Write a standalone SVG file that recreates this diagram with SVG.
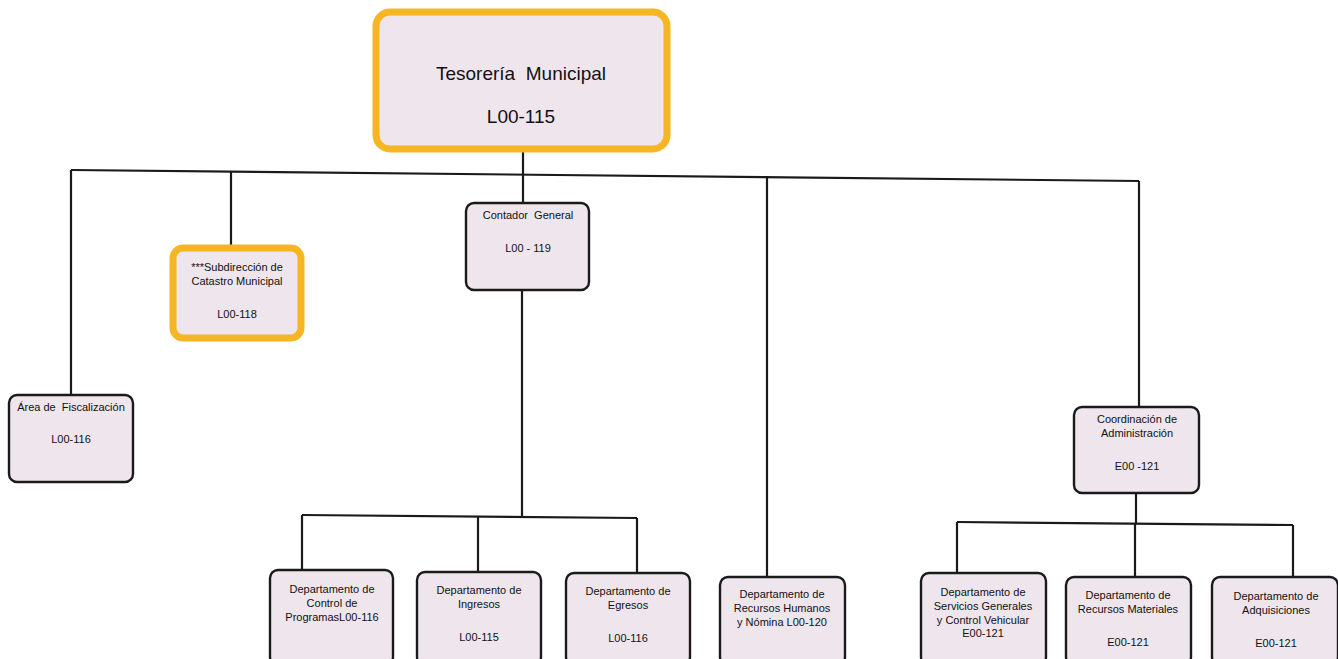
<svg xmlns="http://www.w3.org/2000/svg" width="1338" height="659" viewBox="0 0 1338 659">
<style>
.node{fill:#efe5ec;stroke:#1a1a1a;stroke-width:2.4}
.hl{fill:#efe5ec;stroke:#f6b624;stroke-width:7}
.t{font-family:"Liberation Sans",Arial,sans-serif;font-size:11px;fill:#111;text-anchor:middle;white-space:pre}
.big{font-family:"Liberation Sans",Arial,sans-serif;font-size:19px;fill:#111;text-anchor:middle;white-space:pre}
.c{stroke:#1a1a1a;stroke-width:2.2;fill:none}
</style>
<rect width="1338" height="659" fill="#ffffff"/>
<g id="connectors">
<path class="c" d="M71,170 L1139,181"/>
<path class="c" d="M71,170 V395"/>
<path class="c" d="M231,171 V245"/>
<path class="c" d="M523,152 V203"/>
<path class="c" d="M767,176 V577"/>
<path class="c" d="M1139,181 V407"/>
<path class="c" d="M522,290 V516"/>
<path class="c" d="M302,515 L637,518"/>
<path class="c" d="M302,515 V570"/>
<path class="c" d="M478,516 V572"/>
<path class="c" d="M637,518 V573"/>
<path class="c" d="M1136,493 V523"/>
<path class="c" d="M957,522 L1293,525"/>
<path class="c" d="M957,522 V573"/>
<path class="c" d="M1135,523 V577"/>
<path class="c" d="M1293,525 V577"/>
</g>
<g id="tesoreria">
<rect class="hl" x="376" y="12" width="291" height="137" rx="14"/>
<text class="big" x="521" y="80" xml:space="preserve">Tesorería  Municipal</text>
<text class="big" x="521" y="123">L00-115</text>
</g>
<g id="subdireccion">
<rect class="hl" x="173" y="248" width="128" height="90" rx="10"/>
<text class="t" x="237" y="271">***Subdirección de</text>
<text class="t" x="237" y="285">Catastro Municipal</text>
<text class="t" x="237" y="318">L00-118</text>
</g>
<g id="contador">
<rect class="node" x="466" y="203" width="123" height="87" rx="8"/>
<text class="t" x="528" y="219" xml:space="preserve">Contador  General</text>
<text class="t" x="528" y="252">L00 - 119</text>
</g>
<g id="area-fiscalizacion">
<rect class="node" x="9" y="395" width="124" height="87" rx="8"/>
<text class="t" x="71" y="411" xml:space="preserve">Área de  Fiscalización</text>
<text class="t" x="71" y="443">L00-116</text>
</g>
<g id="coordinacion">
<rect class="node" x="1074" y="407" width="125" height="86" rx="8"/>
<text class="t" x="1137" y="423">Coordinación de</text>
<text class="t" x="1137" y="437">Administración</text>
<text class="t" x="1137" y="470">E00 -121</text>
</g>
<g id="control-programas">
<rect class="node" x="270" y="570" width="123" height="95" rx="8"/>
<text class="t" x="332" y="593">Departamento de</text>
<text class="t" x="332" y="607">Control de</text>
<text class="t" x="332" y="621">ProgramasL00-116</text>
</g>
<g id="ingresos">
<rect class="node" x="417" y="572" width="124" height="93" rx="8"/>
<text class="t" x="479" y="594">Departamento de</text>
<text class="t" x="479" y="608">Ingresos</text>
<text class="t" x="479" y="641">L00-115</text>
</g>
<g id="egresos">
<rect class="node" x="566" y="573" width="124" height="92" rx="8"/>
<text class="t" x="628" y="595">Departamento de</text>
<text class="t" x="628" y="609">Egresos</text>
<text class="t" x="628" y="642">L00-116</text>
</g>
<g id="recursos-humanos">
<rect class="node" x="720" y="577" width="125" height="88" rx="8"/>
<text class="t" x="782" y="598">Departamento de</text>
<text class="t" x="782" y="612">Recursos Humanos</text>
<text class="t" x="782" y="626">y Nómina L00-120</text>
</g>
<g id="servicios-generales">
<rect class="node" x="921" y="573" width="125" height="92" rx="8"/>
<text class="t" x="983" y="596">Departamento de</text>
<text class="t" x="983" y="610">Servicios Generales</text>
<text class="t" x="983" y="624">y Control Vehicular</text>
<text class="t" x="983" y="637">E00-121</text>
</g>
<g id="recursos-materiales">
<rect class="node" x="1066" y="577" width="125" height="88" rx="8"/>
<text class="t" x="1128" y="599">Departamento de</text>
<text class="t" x="1128" y="613">Recursos Materiales</text>
<text class="t" x="1128" y="646">E00-121</text>
</g>
<g id="adquisiciones">
<rect class="node" x="1212" y="577" width="126" height="88" rx="8"/>
<text class="t" x="1276" y="600">Departamento de</text>
<text class="t" x="1276" y="614">Adquisiciones</text>
<text class="t" x="1276" y="647">E00-121</text>
</g>
</svg>
